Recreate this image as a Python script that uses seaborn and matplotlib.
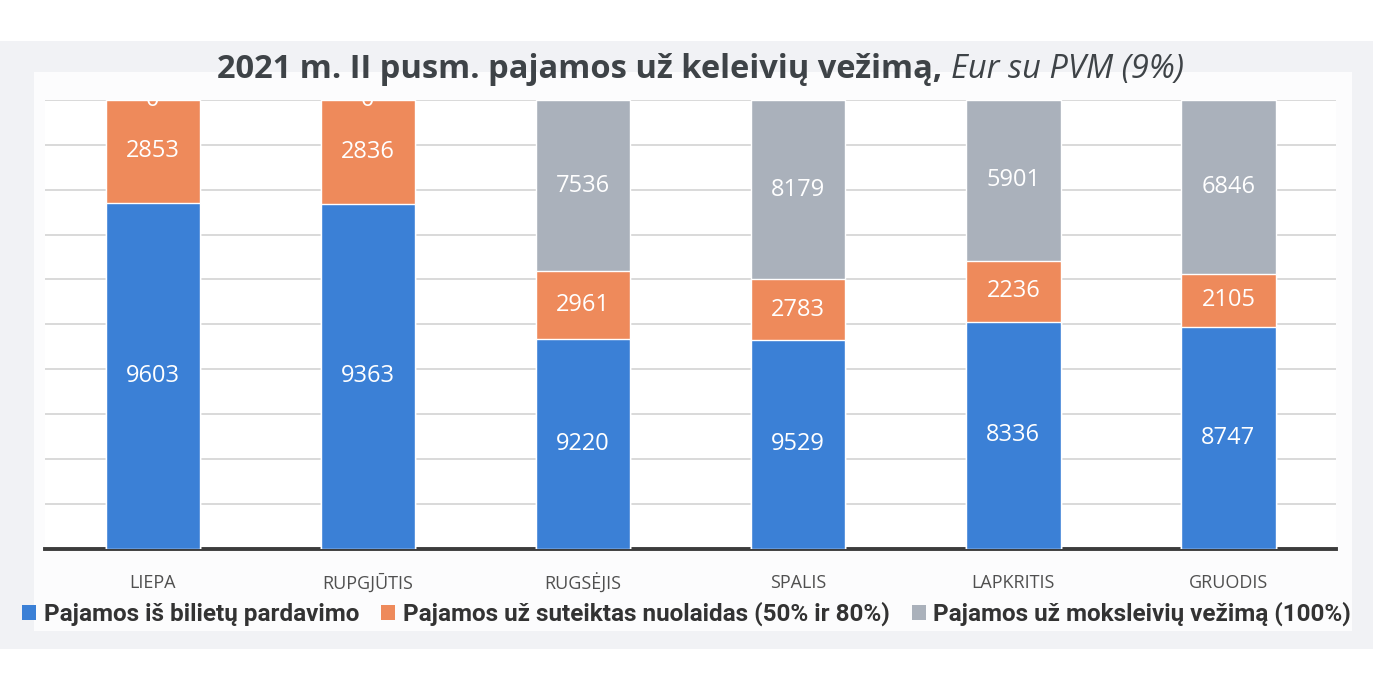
import pandas as pd
import seaborn as sns
import matplotlib.pyplot as plt
from matplotlib.patches import Rectangle, Patch

months = ["LIEPA", "RUPGJŪTIS", "RUGSĖJIS", "SPALIS", "LAPKRITIS", "GRUODIS"]
bilietai = [9603, 9363, 9220, 9529, 8336, 8747]
nuolaidos = [2853, 2836, 2961, 2783, 2236, 2105]
moksleiviai = [0, 0, 7536, 8179, 5901, 6846]
series_names = [
    "Pajamos iš bilietų pardavimo",
    "Pajamos už suteiktas nuolaidas (50% ir 80%)",
    "Pajamos už moksleivių vežimą (100%)",
]
colors = ["#3b80d6", "#ee8a5b", "#aab1bb"]

df = pd.DataFrame({"month": months, "b": bilietai, "n": nuolaidos, "m": moksleiviai})
total = df[["b", "n", "m"]].sum(axis=1)
df["pb"] = df["b"] / total * 100
df["pn"] = df["n"] / total * 100
df["pm"] = df["m"] / total * 100
df["c1"] = df["pb"]
df["c2"] = df["pb"] + df["pn"]
df["c3"] = df["c2"] + df["pm"]

sns.set_style("white")
fig = plt.figure(figsize=(13.73, 6.9), dpi=100)
fig.patch.set_facecolor("white")
fig.patches.append(Rectangle((0.0, 0.06), 1.0, 0.88, transform=fig.transFigure,
                             facecolor="#f1f2f5", edgecolor="none", zorder=-10))
fig.patches.append(Rectangle((0.025, 0.085), 0.96, 0.81, transform=fig.transFigure,
                             facecolor="#fcfcfd", edgecolor="none", zorder=-9))
ax = fig.add_axes([0.033, 0.205, 0.94, 0.65])
ax.set_facecolor("white")

# stacked by overlaying cumulative bars (tallest first)
for col, c in zip(["c3", "c2", "c1"], colors[::-1]):
    sns.barplot(data=df, x="month", y=col, color=c, width=0.44, saturation=1,
                ax=ax, zorder=3)

for i, row in df.iterrows():
    segs = [(0, row["c1"], row["b"]), (row["c1"], row["c2"], row["n"]),
            (row["c2"], row["c3"], row["m"])]
    for lo, hi, v in segs:
        ax.text(i, (lo + hi) / 2, f"{v}", ha="center", va="center", color="white",
                fontsize=17, family=["Open Sans", "DejaVu Sans"], zorder=5, clip_on=True)

ax.set_ylim(0, 100)
ax.set_xlim(-0.5, 5.5)
ax.set_yticks(range(0, 101, 10))
ax.set_yticklabels([])
ax.yaxis.grid(True, color="#d3d3d3", linewidth=1.2, zorder=0)
ax.tick_params(axis="y", length=0)
ax.set_xticks([x - 0.5 for x in range(7)], minor=True)
ax.tick_params(axis="x", which="minor", length=9, width=2.5, color="#3c3c3c", direction="out")
ax.tick_params(axis="x", which="major", length=0, pad=18, labelsize=13, labelcolor="#505050")
for lab in ax.get_xticklabels():
    lab.set_family(["Open Sans", "DejaVu Sans"])
ax.set_xlabel("")
ax.set_ylabel("")
for s in ["top", "left", "right"]:
    ax.spines[s].set_visible(False)
ax.spines["bottom"].set_color("#3c3c3c")
ax.spines["bottom"].set_linewidth(2.8)

handles = [Patch(facecolor=c, edgecolor="none") for c in colors]
leg = fig.legend(handles, series_names, loc="center", bbox_to_anchor=(0.5, 0.11),
                 ncol=3, frameon=False, handlelength=0.6, handleheight=0.6,
                 handletextpad=0.3, columnspacing=0.9,
                 prop={"family": ["Roboto", "DejaVu Sans"],
                       "weight": "bold", "size": 17.5})
for t in leg.get_texts():
    t.set_color("#333333")

# title: bold part + italic part
fig.canvas.draw()
r = fig.canvas.get_renderer()
t1 = fig.text(0.5, 0.887, "2021 m. II pusm. pajamos už keleivių vežimą, ", ha="left",
              va="baseline", fontsize=23.5, fontweight="bold", color="#3e4347",
              family=["Open Sans", "DejaVu Sans"])
t2 = fig.text(0.5, 0.887, "Eur su PVM (9%)", ha="left", va="baseline", fontsize=23.5,
              style="italic", color="#3e4347", family=["Open Sans", "DejaVu Sans"])
w1 = t1.get_window_extent(r).width
w2 = t2.get_window_extent(r).width
W = fig.bbox.width
x0 = 0.51 - (w1 + w2) / 2 / W
t1.set_x(x0)
t2.set_x(x0 + w1 / W)

plt.savefig("out.png", dpi=100, facecolor=fig.get_facecolor())
